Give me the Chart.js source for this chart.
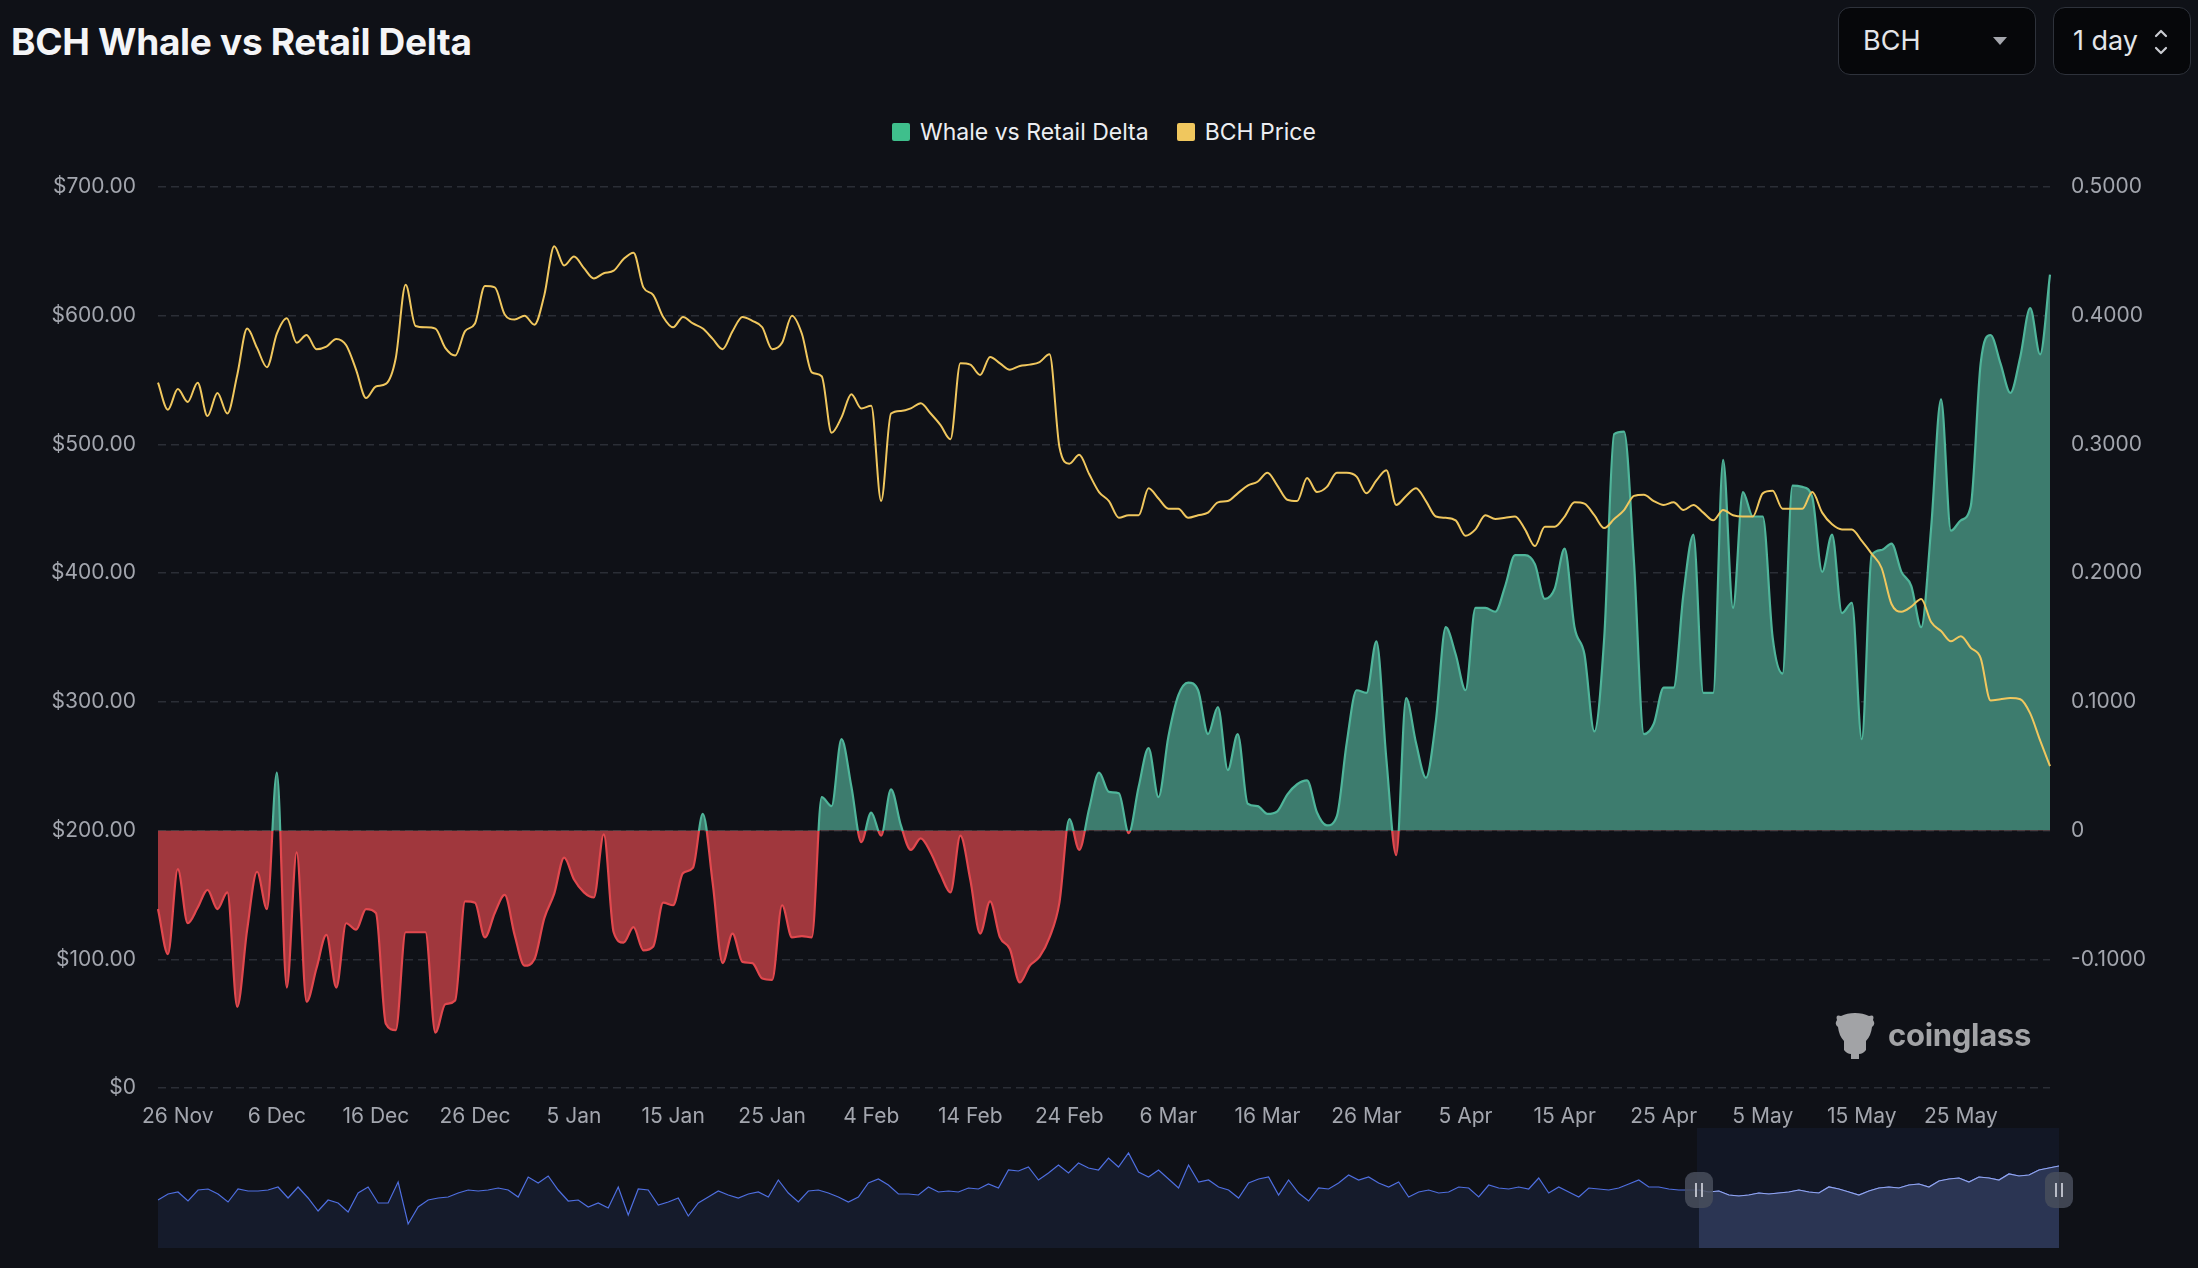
<!DOCTYPE html>
<html>
<head>
<meta charset="utf-8">
<script src="https://cdn.jsdelivr.net/npm/chart.js@4.4.1/dist/chart.umd.min.js"></script>
<style>
  html, body { margin:0; padding:0; background:#0f1117; width:2198px; height:1268px; overflow:hidden; font-family: Inter, "Noto Sans", sans-serif; }
  #title { position:absolute; left:11px; top:23px; font: 700 37px/37px Inter, sans-serif; color:#f4f5f7; letter-spacing:-0.3px; white-space:nowrap; }
  .box { position:absolute; top:7px; height:68px; border:1.5px solid #2e323b; border-radius:12px; background:#06070a; box-sizing:border-box; color:#e3e5e9; font: 400 27px/66px Inter, sans-serif; }
  #legend { position:absolute; left:892px; top:121px; height:22px; display:flex; align-items:center; font: 400 23px/22px Inter, sans-serif; color:#eceef2; white-space:nowrap; }
  #legend .sw { width:18px; height:18px; border-radius:2px; margin-right:10px; }
  #main { position:absolute; left:0; top:0; }
  #navbg { position:absolute; left:1697px; top:1128px; width:362px; height:120px; background:rgba(40,58,110,0.16); }
  #nav { position:absolute; left:0; top:1128px; }
  .handle { position:absolute; top:1172px; width:28px; height:36px; border-radius:9px; background:rgba(72,77,92,0.85); }
  .handle:before, .handle:after { content:""; position:absolute; top:11px; width:2px; height:14px; background:#b9bcc6; }
  .handle:before { left:10px; } .handle:after { left:16px; }
  #wm { position:absolute; left:1833px; top:1010px; display:flex; align-items:center; color:#a2a3a6; font: 700 31px/50px Inter, sans-serif; letter-spacing:-0.3px; }
</style>
</head>
<body>
<div id="title">BCH Whale vs Retail Delta</div>
<div class="box" style="left:1838px; width:198px;"><span style="position:absolute; left:24px;">BCH</span>
  <svg style="position:absolute; left:153px; top:28px;" width="16" height="10"><path d="M1 1 L15 1 L8 9 Z" fill="#a4a6ad"/></svg></div>
<div class="box" style="left:2053px; width:138px;"><span style="position:absolute; left:19px;">1 day</span>
  <svg style="position:absolute; left:99px; top:19px;" width="16" height="30"><path d="M3 9 L8 4 L13 9" stroke="#c9cbd1" stroke-width="2.2" fill="none" stroke-linecap="round" stroke-linejoin="round"/><path d="M3 21 L8 26 L13 21" stroke="#c9cbd1" stroke-width="2.2" fill="none" stroke-linecap="round" stroke-linejoin="round"/></svg></div>
<div id="legend">
  <div class="sw" style="background:#3fbf8c"></div><span>Whale vs Retail Delta</span>
  <div class="sw" style="background:#f0c75e; margin-left:28px;"></div><span>BCH Price</span>
</div>
<canvas id="main" width="2198" height="1140"></canvas>
<div id="navbg"></div>
<canvas id="nav" width="2198" height="120"></canvas>
<div class="handle" style="left:1685px;"></div>
<div class="handle" style="left:2045px;"></div>
<div id="wm">
  <svg width="44" height="50" viewBox="0 0 44 50" style="margin-right:11px;">
    <path d="M4 10 Q2 4 8 6 Q14 3 22 3 Q30 3 36 6 Q42 4 40 10 Q43 14 39 17 Q38 26 33 31 L33 40 Q30 44 26 44 L26 49 L18 49 L18 44 Q14 44 11 40 L11 31 Q6 26 5 17 Q1 14 4 10 Z" fill="#a2a3a6"/>
  </svg>
  <span>coinglass</span>
</div>

<script>
// ---------- DATA ----------
const startDate = [2025, 10, 24];   // 24 Nov (daily categories)
const dayCount = 192;
const monthNames = ['Jan','Feb','Mar','Apr','May','Jun','Jul','Aug','Sep','Oct','Nov','Dec'];
const categories = [];
for (let i = 0; i < dayCount; i++) {
  const d = new Date(Date.UTC(startDate[0], startDate[1], startDate[2] + i));
  categories.push(d.getUTCDate() + ' ' + monthNames[d.getUTCMonth()]);
}
const tickLabels = ['26 Nov','6 Dec','16 Dec','26 Dec','5 Jan','15 Jan','25 Jan','4 Feb','14 Feb','24 Feb',
  '6 Mar','16 Mar','26 Mar','5 Apr','15 Apr','25 Apr','5 May','15 May','25 May'];

const bchPrice = [
  548,527,543,533,548,522,540,524,554,590,575,560,586,598,579,585,574,576,582,577,
  558,536,545,547,567,624,592,591,590,575,569,588,594,623,622,601,597,600,593,616,
  654,639,646,637,629,633,635,644,649,622,616,599,591,599,594,590,582,574,588,599,
  596,591,574,579,600,586,556,553,509,521,539,528,530,456,524,526,528,532,524,515,
  504,563,562,554,568,563,558,561,562,564,570,498,485,492,477,463,456,443,445,445,
  466,458,450,450,443,445,447,455,456,462,468,471,478,468,457,456,474,463,467,478,
  478,475,462,472,480,453,460,466,456,444,443,441,429,434,445,442,443,444,434,421,
  436,436,444,455,454,445,435,442,449,460,461,456,453,455,449,453,447,441,449,445,
  444,444,462,464,450,450,450,463,447,438,434,434,425,415,404,376,370,374,380,362,
  355,347,351,342,334,301,302,303,302,291,270,250
];

const whaleDelta = [
  -0.061,-0.096,-0.030,-0.072,-0.060,-0.046,-0.061,-0.048,-0.137,-0.077,
  -0.032,-0.061,0.045,-0.122,-0.017,-0.133,-0.107,-0.081,-0.122,-0.072,
  -0.077,-0.061,-0.064,-0.150,-0.155,-0.079,-0.079,-0.079,-0.157,-0.135,
  -0.132,-0.055,-0.056,-0.083,-0.064,-0.050,-0.081,-0.105,-0.100,-0.068,
  -0.049,-0.021,-0.038,-0.048,-0.052,-0.003,-0.079,-0.087,-0.075,-0.093,
  -0.090,-0.056,-0.058,-0.033,-0.029,0.013,-0.041,-0.103,-0.080,-0.102,
  -0.103,-0.115,-0.116,-0.058,-0.083,-0.082,-0.083,0.026,0.019,0.071,
  0.034,-0.009,0.014,-0.004,0.032,0.004,-0.015,-0.006,-0.017,-0.034,
  -0.048,-0.004,-0.038,-0.080,-0.055,-0.083,-0.092,-0.118,-0.105,-0.098,
  -0.083,-0.056,0.009,-0.015,0.017,0.045,0.030,0.029,-0.002,0.034,
  0.064,0.026,0.073,0.105,0.115,0.109,0.075,0.096,0.047,0.075,
  0.021,0.019,0.013,0.015,0.028,0.036,0.039,0.014,0.004,0.011,
  0.068,0.109,0.107,0.147,0.056,-0.019,0.103,0.068,0.041,0.085,
  0.158,0.137,0.109,0.173,0.173,0.170,0.190,0.214,0.214,0.207,
  0.180,0.188,0.219,0.158,0.137,0.077,0.150,0.308,0.310,0.209,
  0.075,0.083,0.111,0.111,0.184,0.230,0.107,0.107,0.288,0.173,
  0.263,0.244,0.244,0.150,0.122,0.268,0.267,0.259,0.201,0.230,
  0.169,0.177,0.071,0.214,0.218,0.223,0.201,0.190,0.158,0.235,
  0.335,0.233,0.241,0.252,0.363,0.385,0.363,0.340,0.368,0.406,
  0.370,0.432
];

// navigator (data-zoom overview) series, read at ~10px steps
const navSeries = [
  48,54,56,47,58,59,54,46,59,57,57,58,61,50,61,50,37,48,45,36,
  55,61,45,45,66,24,41,48,50,51,55,58,57,58,60,58,51,71,65,72,
  58,47,48,41,45,40,61,33,59,58,43,46,50,32,45,51,57,53,50,54,
  56,51,68,55,46,57,58,55,51,46,51,65,69,63,54,54,53,61,56,57,
  56,60,59,64,60,78,77,81,68,75,83,75,85,80,78,90,81,95,76,71,
  78,69,60,83,66,68,61,58,50,65,69,71,53,68,55,47,60,59,65,73,
  68,71,65,61,66,51,56,58,55,56,61,60,51,63,60,59,61,59,70,55,
  61,56,51,60,59,58,60,64,68,61,61,59,58,58,58,56,57,53,52,53,
  55,54,55,56,58,56,55,61,59,56,53,57,60,61,60,63,64,61,67,69,
  70,66,71,70,68,74,72,73,78,80,82
];
const navSelStart = 154;

// ---------- STYLE ----------
const GREEN_LINE = '#4fb59a', GREEN_FILL = '#3d7c6e';
const RED_LINE = '#e2484e', RED_FILL = '#a0373d';
const PRICE = '#f0c75e';
const TICK = '#a3a6ae';
const GRID = '#2b2e36';
const tickFont = { family: 'Inter', size: 21 };

function splitColor(ctx, up, down) {
  const chart = ctx.chart;
  const area = chart.chartArea;
  if (!area) return up;
  const y0 = chart.scales.y1.getPixelForValue(0);
  let f = (y0 - area.top) / (area.bottom - area.top);
  f = Math.min(1, Math.max(0, f));
  const g = chart.ctx.createLinearGradient(0, area.top, 0, area.bottom);
  g.addColorStop(0, up); g.addColorStop(f, up);
  g.addColorStop(f, down); g.addColorStop(1, down);
  return g;
}

new Chart(document.getElementById('main'), {
  type: 'line',
  data: {
    labels: categories,
    datasets: [
      {
        label: 'BCH Price', data: bchPrice, yAxisID: 'y',
        borderColor: PRICE, borderWidth: 2, pointRadius: 0, fill: false,
        cubicInterpolationMode: 'monotone', order: 0
      },
      {
        label: 'Whale vs Retail Delta', data: whaleDelta, yAxisID: 'y1',
        borderColor: (c) => splitColor(c, GREEN_LINE, RED_LINE), borderWidth: 2.2, pointRadius: 0,
        fill: { target: 'origin', above: GREEN_FILL, below: RED_FILL },
        cubicInterpolationMode: 'monotone', order: 1
      }
    ]
  },
  options: {
    responsive: false, animation: false,
    layout: { padding: { top: 187, left: 0, right: 0, bottom: 0 } },
    plugins: { legend: { display: false }, tooltip: { enabled: false } },
    scales: {
      x: {
        type: 'category',
        grid: { display: false, drawTicks: false },
        border: { display: false },
        afterFit: (s) => { s.height = 52; },
        ticks: {
          autoSkip: false, maxRotation: 0, minRotation: 0, padding: 16,
          color: TICK, font: tickFont,
          callback: function (v) { const l = this.getLabelForValue(v); return tickLabels.includes(l) ? l : null; }
        }
      },
      y: {
        position: 'left', min: 0, max: 700,
        afterFit: (s) => { s.width = 158; },
        grid: { color: GRID, lineWidth: 1.5, drawTicks: false },
        border: { display: false, dash: [8, 5] },
        ticks: {
          stepSize: 100, padding: 22, color: TICK, font: tickFont,
          callback: (v) => v === 0 ? '$0' : '$' + v.toFixed(2)
        }
      },
      y1: {
        position: 'right', min: -0.2, max: 0.5,
        afterFit: (s) => { s.width = 148; },
        grid: { display: false, drawTicks: false },
        border: { display: false },
        ticks: {
          stepSize: 0.1, padding: 21, color: TICK, font: tickFont,
          callback: (v) => {
            const r = Math.round(v * 10) / 10;
            if (r === 0) return '0';
            if (r < -0.15) return '';
            return r.toFixed(4);
          }
        }
      }
    }
  }
});

// navigator
const navLabels = navSeries.map((_, i) => i);
const navSelected = navSeries.map((v, i) => i >= navSelStart ? v : null);
new Chart(document.getElementById('nav'), {
  type: 'line',
  data: {
    labels: navLabels,
    datasets: [
      { data: navSelected, borderColor: '#93a6ef', borderWidth: 1.2, pointRadius: 0, fill: { target: 'origin' }, backgroundColor: '#2b3553', tension: 0, order: 0 },
      { data: navSeries, borderColor: '#4f6fe0', borderWidth: 1.2, pointRadius: 0, fill: { target: 'origin' }, backgroundColor: '#151b2b', tension: 0, order: 1 }
    ]
  },
  options: {
    responsive: false, animation: false,
    layout: { padding: { left: 158, right: 139, top: 0, bottom: 0 } },
    plugins: { legend: { display: false }, tooltip: { enabled: false } },
    scales: {
      x: { display: false },
      y: { display: false, min: 0, max: 120 }
    }
  }
});
</script>
</body>
</html>
